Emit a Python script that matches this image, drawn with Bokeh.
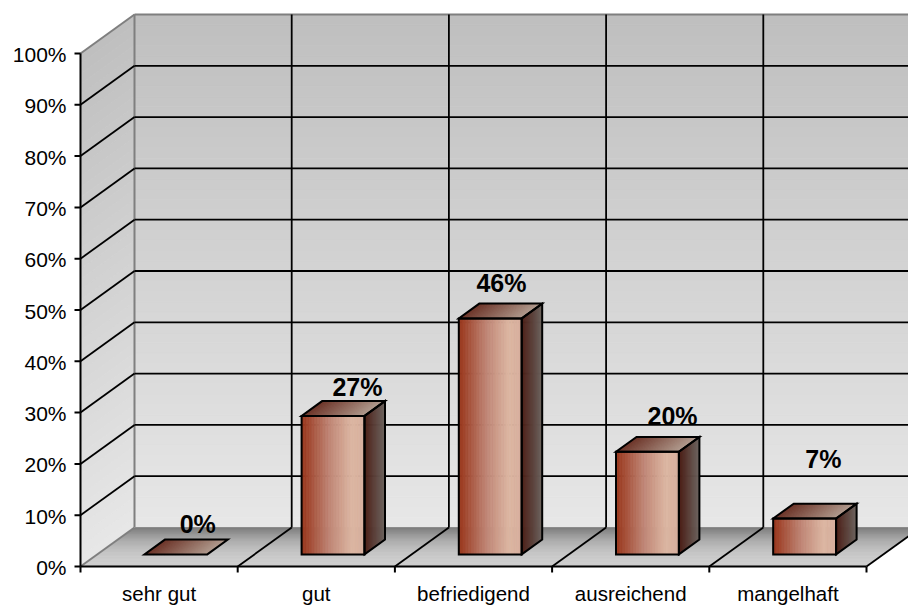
import numpy as np
from bokeh.plotting import figure
from bokeh.models import Range1d
from bokeh.embed import file_html
from bokeh.resources import INLINE
from bokeh.core.properties import value

# ---- data -------------------------------------------------------------
categories = ["sehr gut", "gut", "befriedigend", "ausreichend", "mangelhaft"]
shares = [0, 27, 46, 20, 7]                      # percent of answers
value_labels = ["0%", "27%", "46%", "20%", "7%"]
y_ticks = [0, 10, 20, 30, 40, 50, 60, 70, 80, 90, 100]
y_tick_labels = ["0%", "10%", "20%", "30%", "40%", "50%", "60%", "70%", "80%", "90%", "100%"]
# where each value label sits relative to its bar (category units / percent)
label_shift = [0.246, 0.262, 0.178, 0.266, 0.226]
label_lift = [8.3, 8.0, 9.2, 9.4, 13.9]

# ---- oblique projection of the depth axis ------------------------------
PX_X = 157.2          # pixels per category
PX_Y = 5.13           # pixels per percent
DX = 54 / PX_X        # full depth, expressed along x (category units)
DY = 39 / PX_Y        # full depth, expressed along y (percent units)
BAR_W = 0.40          # bar width in category units
BAR_F0 = 0.31         # depth at which the bar's front face sits
BAR_FD = 0.38         # bar depth as fraction of the full depth
N_CAT = len(categories)

W, H = 908, 606
LEFT, BOTTOM = 80, 40
x_lo = -LEFT / PX_X
x_hi = (W - LEFT) / PX_X
y_lo = -BOTTOM / PX_Y
y_hi = (H - BOTTOM) / PX_Y

p = figure(width=W, height=H, output_backend="svg", toolbar_location=None,
           x_range=Range1d(x_lo, x_hi), y_range=Range1d(y_lo, y_hi),
           min_border=0, min_border_left=0, min_border_right=0,
           min_border_top=0, min_border_bottom=0)
p.axis.visible = False
p.grid.visible = False
p.outline_line_color = None
p.background_fill_color = "white"
p.border_fill_color = "white"


def hex_rgb(c):
    c = c.lstrip("#")
    return np.array([int(c[i:i + 2], 16) for i in (0, 2, 4)], dtype=float)


def ramp(stops, t):
    for (p0, c0), (p1, c1) in zip(stops[:-1], stops[1:]):
        if t <= p1:
            u = 0 if p1 == p0 else (t - p0) / (p1 - p0)
            rgb = hex_rgb(c0) * (1 - u) + hex_rgb(c1) * u
            return "#%02x%02x%02x" % tuple(int(round(v)) for v in rgb)
    return stops[-1][1]


xs, ys, cols = [], [], []


def add(px, py, c):
    xs.append(list(px))
    ys.append(list(py))
    cols.append(c)


# ---- floor: darkens towards the back wall ------------------------------
floor_stops = [(0, "#cecece"), (1, "#7a7a7a")]
n = 40
for k in range(n):
    d0, d1 = k / n, (k + 1) / n
    c = ramp(floor_stops, ((d0 + d1) / 2) ** 2.2)
    add([d0 * DX, N_CAT + d0 * DX, N_CAT + d1 * DX, d1 * DX],
        [d0 * DY, d0 * DY, d1 * DY, d1 * DY], c)

# ---- back wall and side wall: lighter towards the floor ----------------
wall_stops = [(0, "#e7e7e7"), (1, "#bfbfbf")]
n = 50
for k in range(n):
    v0, v1 = 100 * k / n, 100 * (k + 1) / n
    c = ramp(wall_stops, (v0 + v1) / 200)
    add([DX, x_hi + 1, x_hi + 1, DX], [v0 + DY, v0 + DY, v1 + DY, v1 + DY], c)
    add([0, DX, DX, 0], [v0, v0 + DY, v1 + DY, v1], c)

# ---- bars --------------------------------------------------------------
front_stops = [(0, "#983419"), (0.45, "#c08676"), (0.8, "#dcb6a2"), (1, "#d7af9d")]
top_stops = [(0, "#6a3024"), (1, "#b09a8d")]
side_stops = [(0, "#4a1b13"), (1, "#6b635e")]
ddx, ddy = BAR_FD * DX, BAR_FD * DY
bar_outlines_x, bar_outlines_y = [], []
for i, v in enumerate(shares):
    cx = i + 0.5
    xl = cx - BAR_W / 2 + BAR_F0 * DX
    xr = cx + BAR_W / 2 + BAR_F0 * DX
    yb = BAR_F0 * DY
    yt = v + BAR_F0 * DY
    n = 40
    for k in range(n):
        a0, a1 = k / n, (k + 1) / n
        xa, xb = xl + a0 * (xr - xl), xl + a1 * (xr - xl)
        if v > 0:
            add([xa, xb, xb, xa], [yb, yb, yt, yt], ramp(front_stops, (a0 + a1) / 2))
        add([xa, xb, xb + ddx, xa + ddx], [yt, yt, yt + ddy, yt + ddy],
            ramp(top_stops, (a0 + a1) / 2))
    if v > 0:
        n = 20
        for k in range(n):
            t0, t1 = k / n, (k + 1) / n
            add([xr + t0 * ddx, xr + t1 * ddx, xr + t1 * ddx, xr + t0 * ddx],
                [yb + t0 * ddy, yb + t1 * ddy, yt + t1 * ddy, yt + t0 * ddy],
                ramp(side_stops, (t0 + t1) / 2))
        bar_outlines_x += [[xl, xr, xr, xl],
                           [xr, xr + ddx, xr + ddx, xr]]
        bar_outlines_y += [[yb, yb, yt, yt],
                           [yb, yb + ddy, yt + ddy, yt]]
    bar_outlines_x.append([xl, xr, xr + ddx, xl + ddx])
    bar_outlines_y.append([yt, yt, yt + ddy, yt + ddy])

# gradient strips (floor and walls first, then bars on top)
n_bg = 40 + 100
p.patches(xs[:n_bg], ys[:n_bg], fill_color=cols[:n_bg], line_color=cols[:n_bg], line_width=0.8)

# ---- wall / floor edges (grey) -----------------------------------------
edge = dict(line_color="#7f7f7f", line_width=2)
p.line([DX, x_hi + 1], [100 + DY, 100 + DY], **edge)
p.line([0, DX], [100, 100 + DY], **edge)
p.line([DX, DX], [DY, 100 + DY], **edge)
p.line([0, DX], [0, DY], **edge)
p.line([DX, x_hi + 1], [DY, DY], line_color="#8c8c8c", line_width=1)

# ---- black gridlines ---------------------------------------------------
grid = dict(line_color="black", line_width=1.8)
inner = [t for t in y_ticks if 0 < t < 100]
p.segment(x0=[DX] * len(inner), y0=[t + DY for t in inner],
          x1=[x_hi + 1] * len(inner), y1=[t + DY for t in inner], **grid)
p.segment(x0=[0] * len(inner), y0=inner, x1=[DX] * len(inner),
          y1=[t + DY for t in inner], **grid)
bounds = list(range(1, N_CAT + 1))
p.segment(x0=[b + DX for b in bounds], y0=[DY] * len(bounds),
          x1=[b + DX for b in bounds], y1=[100 + DY] * len(bounds), **grid)
p.segment(x0=bounds, y0=[0] * len(bounds), x1=[b + DX for b in bounds],
          y1=[DY] * len(bounds), **grid)

# bars
p.patches(xs[n_bg:], ys[n_bg:], fill_color=cols[n_bg:], line_color=cols[n_bg:], line_width=0.8)
p.patches(bar_outlines_x, bar_outlines_y, fill_color=None, line_color="black",
          line_width=2, line_join="miter")

# ---- axes --------------------------------------------------------------
p.line([0, 0], [0, 100], line_color="black", line_width=2)
p.line([0, N_CAT], [0, 0], line_color="black", line_width=2)
tick_len_x = 6 / PX_X
tick_len_y = 6 / PX_Y
p.segment(x0=[-tick_len_x] * len(y_ticks), y0=y_ticks, x1=[0] * len(y_ticks),
          y1=y_ticks, line_color="black", line_width=2)
cat_edges = list(range(0, N_CAT + 1))
p.segment(x0=cat_edges, y0=[0] * len(cat_edges), x1=cat_edges,
          y1=[-tick_len_y] * len(cat_edges), line_color="black", line_width=2)

font = value("Liberation Sans")
p.text(x=[0] * len(y_ticks), y=y_ticks, text=y_tick_labels, x_offset=-14,
       y_offset=1, text_align="right", text_baseline="middle", text_font=font,
       text_font_size="21px", text_color="black")
p.text(x=[i + 0.5 for i in range(N_CAT)], y=[0] * N_CAT, text=categories,
       y_offset=27, text_align="center", text_baseline="alphabetic",
       text_font=font, text_font_size="20.5px", text_color="black")

# ---- value labels ------------------------------------------------------
p.text(x=[i + 0.5 + s for i, s in enumerate(label_shift)],
       y=[v + l for v, l in zip(shares, label_lift)], text=value_labels,
       text_align="center", text_baseline="middle", text_font=font,
       text_font_size="25px", text_font_style="bold", text_color="black")

open("out.html", "w").write(file_html(p, INLINE))
